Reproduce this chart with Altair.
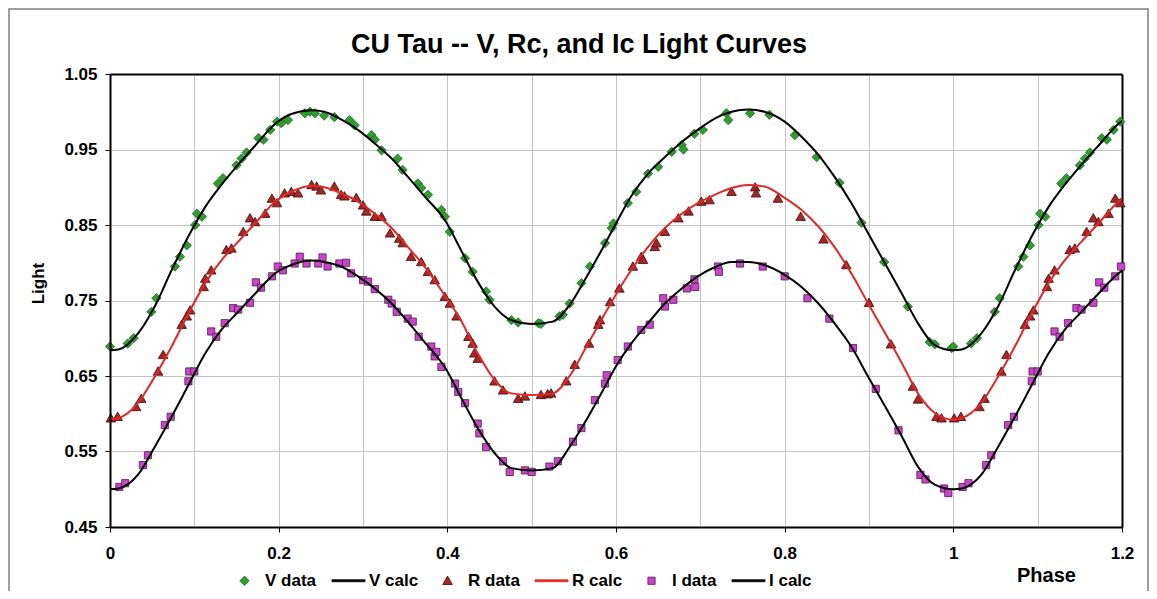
import altair as alt
import pandas as pd

FONT = "Liberation Sans"
TITLE = "CU Tau -- V, Rc, and Ic Light Curves"
SERIES = ["V data", "V calc", "R data", "R calc", "I data", "I calc"]

X_TICKS = [0, 0.2, 0.4, 0.6, 0.8, 1, 1.2]
X_GRID = [0.1, 0.2, 0.3, 0.4, 0.5, 0.6, 0.7, 0.8, 0.9, 1.0, 1.1]
Y_TICKS = [0.45, 0.55, 0.65, 0.75, 0.85, 0.95, 1.05]
Y_GRID = [0.55, 0.65, 0.75, 0.85, 0.95]

# observed points (phase 0..1); the chart repeats phase 0..0.2 after phase 1
V_PH = [0.000, 0.021, 0.028, 0.049, 0.055, 0.077, 0.083, 0.091, 0.101, 0.103, 0.109, 0.128, 0.134, 0.150, 0.156, 0.162, 0.176, 0.182, 0.190, 0.198,
        0.203, 0.211, 0.231, 0.237, 0.243, 0.254, 0.266, 0.284, 0.290, 0.310, 0.314, 0.322, 0.341, 0.347, 0.365, 0.369, 0.377, 0.393, 0.397,
        0.403, 0.421, 0.430, 0.446, 0.450, 0.476, 0.484, 0.508, 0.511, 0.533, 0.537, 0.545, 0.559, 0.569, 0.587, 0.595, 0.597,
        0.614, 0.624, 0.638, 0.650, 0.666, 0.678, 0.680, 0.693, 0.703, 0.731, 0.733, 0.759, 0.782,
        0.812, 0.838, 0.865, 0.891, 0.918, 0.946, 0.972, 0.978, 0.998]
V_LT = [0.689, 0.693, 0.700, 0.735, 0.753, 0.795, 0.808, 0.823, 0.850, 0.865, 0.861, 0.905, 0.912, 0.929, 0.938, 0.946, 0.965, 0.963, 0.976, 0.987,
        0.985, 0.989, 0.998, 1.000, 0.998, 0.995, 0.993, 0.989, 0.982, 0.969, 0.963, 0.949, 0.938, 0.923, 0.905, 0.899, 0.890, 0.870, 0.861,
        0.841, 0.806, 0.788, 0.762, 0.751, 0.724, 0.721, 0.720, 0.719, 0.729, 0.731, 0.746, 0.773, 0.795, 0.826, 0.846, 0.852,
        0.879, 0.894, 0.918, 0.927, 0.947, 0.956, 0.950, 0.971, 0.976, 0.998, 0.989, 0.998, 0.996,
        0.969, 0.940, 0.906, 0.853, 0.801, 0.742, 0.695, 0.692, 0.687]

R_PH = [0.001, 0.009, 0.031, 0.037, 0.057, 0.063, 0.085, 0.091, 0.095, 0.111, 0.113, 0.120, 0.138, 0.144, 0.158, 0.166, 0.172, 0.184, 0.192, 0.198,
        0.207, 0.215, 0.223, 0.239, 0.245, 0.250, 0.266, 0.274, 0.278, 0.292, 0.300, 0.304, 0.314, 0.322, 0.332, 0.343, 0.347, 0.357, 0.369, 0.377, 0.385, 0.397,
        0.403, 0.411, 0.425, 0.430, 0.432, 0.436, 0.456, 0.466, 0.484, 0.492, 0.511, 0.519, 0.523, 0.541, 0.551, 0.568, 0.579, 0.581, 0.593,
        0.604, 0.620, 0.630, 0.632, 0.646, 0.648, 0.658, 0.674, 0.686, 0.701, 0.711, 0.737, 0.765, 0.766, 0.792,
        0.819, 0.846, 0.873, 0.900, 0.926, 0.952, 0.958, 0.980, 0.986]
R_LT = [0.594, 0.596, 0.609, 0.620, 0.656, 0.678, 0.718, 0.729, 0.737, 0.768, 0.779, 0.790, 0.817, 0.819, 0.841, 0.859, 0.854, 0.865, 0.885, 0.879,
        0.892, 0.894, 0.892, 0.903, 0.901, 0.896, 0.901, 0.890, 0.888, 0.886, 0.876, 0.868, 0.861, 0.861, 0.839, 0.832, 0.826, 0.808, 0.801, 0.788, 0.777, 0.755,
        0.746, 0.729, 0.702, 0.693, 0.680, 0.673, 0.643, 0.631, 0.620, 0.623, 0.625, 0.626, 0.627, 0.643, 0.665, 0.693, 0.718, 0.724, 0.748,
        0.766, 0.795, 0.808, 0.804, 0.821, 0.826, 0.841, 0.859, 0.868, 0.881, 0.883, 0.894, 0.900, 0.892, 0.885,
        0.861, 0.831, 0.797, 0.747, 0.692, 0.636, 0.619, 0.596, 0.594]

I_PH = [0.011, 0.018, 0.039, 0.045, 0.065, 0.072, 0.093, 0.094, 0.100, 0.120, 0.126, 0.136, 0.146, 0.152, 0.166, 0.173, 0.179, 0.192, 0.199,
        0.205, 0.219, 0.225, 0.233, 0.247, 0.252, 0.258, 0.272, 0.280, 0.286, 0.300, 0.306, 0.314, 0.330, 0.334, 0.340, 0.353, 0.359, 0.366, 0.381, 0.385, 0.387, 0.393,
        0.409, 0.413, 0.421, 0.436, 0.438, 0.446, 0.466, 0.474, 0.492, 0.500, 0.521, 0.531, 0.549, 0.559, 0.575, 0.587, 0.589,
        0.602, 0.614, 0.630, 0.640, 0.656, 0.658, 0.668, 0.684, 0.693, 0.694, 0.721, 0.722, 0.747, 0.774, 0.800,
        0.827, 0.853, 0.881, 0.908, 0.935, 0.961, 0.967, 0.989, 0.994]
I_LT = [0.503, 0.508, 0.532, 0.545, 0.585, 0.596, 0.643, 0.656, 0.656, 0.709, 0.702, 0.720, 0.740, 0.738, 0.747, 0.774, 0.767, 0.782, 0.795,
        0.790, 0.799, 0.808, 0.799, 0.799, 0.807, 0.795, 0.799, 0.800, 0.786, 0.777, 0.775, 0.765, 0.751, 0.746, 0.735, 0.726, 0.722, 0.702, 0.689, 0.676, 0.682, 0.662,
        0.640, 0.629, 0.614, 0.587, 0.574, 0.556, 0.537, 0.523, 0.525, 0.523, 0.530, 0.537, 0.563, 0.581, 0.618, 0.640, 0.651,
        0.671, 0.689, 0.711, 0.718, 0.753, 0.742, 0.751, 0.766, 0.778, 0.768, 0.795, 0.788, 0.799, 0.795, 0.782,
        0.753, 0.726, 0.687, 0.633, 0.578, 0.519, 0.513, 0.501, 0.495]

# model curves (phase 0..1)
CALC_PH = [0.000, 0.010, 0.033, 0.053, 0.073, 0.093, 0.113, 0.132, 0.152, 0.172, 0.197, 0.215, 0.239, 0.254, 0.274, 0.294, 0.314,
           0.334, 0.353, 0.373, 0.398, 0.417, 0.436, 0.456, 0.476, 0.500, 0.525, 0.545, 0.565, 0.585, 0.600, 0.618, 0.638,
           0.658, 0.678, 0.697, 0.717, 0.737, 0.757, 0.776, 0.800, 0.820, 0.840, 0.859, 0.879, 0.899, 0.919, 0.939, 0.958, 0.978, 1.000]
V_CALC = [0.684, 0.685, 0.706, 0.742, 0.790, 0.835, 0.874, 0.903, 0.930, 0.955, 0.985, 0.997, 1.002, 1.000, 0.990, 0.976, 0.958,
          0.938, 0.914, 0.888, 0.855, 0.815, 0.775, 0.742, 0.724, 0.719, 0.722, 0.744, 0.781, 0.821, 0.852, 0.888, 0.918,
          0.940, 0.960, 0.976, 0.991, 1.000, 1.003, 1.000, 0.987, 0.967, 0.943, 0.914, 0.879, 0.839, 0.799, 0.759, 0.720, 0.691, 0.684]
R_CALC = [0.592, 0.594, 0.614, 0.649, 0.689, 0.733, 0.773, 0.803, 0.828, 0.852, 0.882, 0.894, 0.902, 0.900, 0.892, 0.881, 0.865,
          0.846, 0.821, 0.795, 0.755, 0.722, 0.680, 0.645, 0.627, 0.625, 0.627, 0.650, 0.689, 0.729, 0.758, 0.790, 0.821,
          0.846, 0.865, 0.879, 0.890, 0.899, 0.903, 0.901, 0.886, 0.870, 0.848, 0.821, 0.786, 0.746, 0.707, 0.667, 0.627, 0.601, 0.592]
I_CALC = [0.500, 0.501, 0.519, 0.556, 0.596, 0.638, 0.680, 0.711, 0.735, 0.759, 0.787, 0.797, 0.803, 0.801, 0.795, 0.782, 0.766,
          0.746, 0.722, 0.695, 0.660, 0.620, 0.581, 0.548, 0.528, 0.525, 0.528, 0.556, 0.592, 0.632, 0.663, 0.693, 0.720,
          0.746, 0.766, 0.782, 0.794, 0.801, 0.801, 0.797, 0.784, 0.768, 0.746, 0.720, 0.689, 0.649, 0.610, 0.570, 0.530, 0.506, 0.500]

# styles
SHAPES = [
    "M0,-0.31L0.31,0L0,0.31L-0.31,0Z",
    "M-1.1,-0.065L1.1,-0.065L1.1,0.065L-1.1,0.065Z",
    "M0,-0.31L0.32,0.25L-0.32,0.25Z",
    "M-1.1,-0.065L1.1,-0.065L1.1,0.065L-1.1,0.065Z",
    "M-0.24,-0.24L0.24,-0.24L0.24,0.24L-0.24,0.24Z",
    "M-1.1,-0.065L1.1,-0.065L1.1,0.065L-1.1,0.065Z",
]
FILLS = ["#2f9e2f", "#000000", "#a82626", "#e02828", "#cc44cc", "#000000"]
STROKES = ["#1d6a1d", "#000000", "#3c0a0a", "#e02828", "#4a1a4a", "#000000"]


def with_repeat(ph, lt, series):
    rows = [(p, v, series) for p, v in zip(ph, lt, strict=True)]
    rows += [(p + 1, v, series) for p, v in zip(ph, lt) if p <= 0.2]
    return rows


pts = pd.DataFrame(
    with_repeat(V_PH, V_LT, "V data") + with_repeat(R_PH, R_LT, "R data") + with_repeat(I_PH, I_LT, "I data"),
    columns=["phase", "light", "series"],
)
calc_rows = []
for name, vals in (("V", V_CALC), ("R", R_CALC), ("I", I_CALC)):
    calc_rows += [(p, v, name) for p, v in zip(CALC_PH, vals, strict=True)]
    calc_rows += [(p + 1, v, name) for p, v in zip(CALC_PH, vals) if 0 < p <= 0.22]
calc = pd.DataFrame(calc_rows, columns=["phase", "light", "band"])

xs = alt.Scale(domain=[0, 1.2], nice=False, zero=False)
ys = alt.Scale(domain=[0.45, 1.05], nice=False, zero=False)

legend = alt.Legend(
    orient="none", legendX=119, legendY=491, direction="horizontal", columns=6,
    labelFont=FONT, labelFontSize=17, labelFontWeight="bold", labelColor="black",
    symbolSize=900, symbolStrokeWidth=0.8, columnPadding=13, labelOffset=5, padding=0,
)

top_grid_axis = alt.Axis(
    orient="top", values=X_GRID, grid=True, gridColor="#c4c4c4", gridWidth=1,
    labels=False, ticks=False, domain=True, domainColor="black", domainWidth=2, title=None,
)
left_axis = alt.Axis(
    orient="left", values=Y_TICKS, format=".3~g", grid=False, tickSize=5, tickColor="black",
    domainColor="black", domainWidth=2, labelFont=FONT, labelFontSize=17, labelFontWeight="bold",
    labelColor="black", labelPadding=8, title="Light", titleFont=FONT, titleFontSize=17,
    titleFontWeight="bold", titleColor="black", titleAngle=270, titleX=-72, titleY=209,
    titleAlign="center", titleBaseline="middle", zindex=1,
)
bottom_axis = alt.Axis(
    orient="bottom", values=X_TICKS, format=".3~g", grid=False, tickSize=5, tickColor="black",
    domainColor="black", domainWidth=2, labelFont=FONT, labelFontSize=17, labelFontWeight="bold",
    labelColor="black", labelPadding=13, labelFlush=False, title="Phase", titleFont=FONT,
    titleFontSize=20, titleFontWeight="bold", titleColor="black", titleX=936, titleY=54,
    titleAlign="center", titleBaseline="alphabetic", zindex=1,
)
right_grid_axis = alt.Axis(
    orient="right", values=Y_GRID, grid=True, gridColor="#c4c4c4", gridWidth=1,
    labels=False, ticks=False, domain=True, domainColor="black", domainWidth=2, title=None,
)

one = pd.DataFrame({"k": [0]})
border = alt.Chart(one).mark_rect(fillOpacity=0, stroke="#808080", strokeWidth=1.5).encode(
    x=alt.value(-101), x2=alt.value(1038), y=alt.value(-65), y2=alt.value(540)
)
title = alt.Chart(one).mark_text(
    text=TITLE, font=FONT, fontSize=27, fontWeight="bold", align="center",
    baseline="alphabetic", color="black",
).encode(x=alt.value(469), y=alt.value(-21))

points = alt.Chart(pts).mark_point(filled=True, size=900, strokeWidth=0.8, opacity=1).encode(
    x=alt.X("phase:Q", scale=xs, axis=top_grid_axis),
    y=alt.Y("light:Q", scale=ys, axis=left_axis),
    fill=alt.Fill("series:N", scale=alt.Scale(domain=SERIES, range=FILLS), legend=legend, title=None),
    stroke=alt.Stroke("series:N", scale=alt.Scale(domain=SERIES, range=STROKES), legend=legend, title=None),
    shape=alt.Shape("series:N", scale=alt.Scale(domain=SERIES, range=SHAPES), legend=legend, title=None),
)

black_lines = alt.Chart(calc).transform_filter(
    alt.FieldOneOfPredicate(field="band", oneOf=["V", "I"])
).mark_line(color="black", strokeWidth=2, interpolate="monotone", clip=True).encode(
    x=alt.X("phase:Q", scale=xs, axis=bottom_axis),
    y=alt.Y("light:Q", scale=ys, axis=right_grid_axis),
    detail="band:N",
)
red_line = alt.Chart(calc).transform_filter(
    alt.FieldEqualPredicate(field="band", equal="R")
).mark_line(color="#e02828", strokeWidth=2, interpolate="monotone", clip=True).encode(
    x=alt.X("phase:Q", scale=xs, axis=None),
    y=alt.Y("light:Q", scale=ys, axis=None),
)

chart = alt.layer(border, title, points, black_lines, red_line).resolve_axis(
    x="independent", y="independent"
).properties(
    width=1012, height=453,
    autosize=alt.AutoSizeParams(type="none"),
    padding={"left": 102, "top": 66, "right": 27, "bottom": 64},
).configure_view(stroke="transparent").configure(background="white")

chart.save("out.html", embed_options={"renderer": "svg", "actions": False})
